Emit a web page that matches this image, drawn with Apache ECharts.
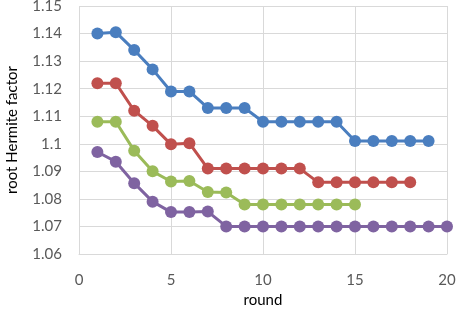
<!DOCTYPE html>
<html><head><meta charset="utf-8">
<script src="https://cdn.jsdelivr.net/npm/echarts@6/dist/echarts.min.js"></script>
<style>html,body{margin:0;padding:0;background:#fff}#c{width:456px;height:316px}</style>
</head><body><div id="c"></div>
<script>
const seriesNames = ['blue', 'red', 'green', 'purple'];
const blueX = [1,2,3,4,5,6,7,8,9,10,11,12,13,14,15,16,17,18,19];
const blueY = [1.140,1.1405,1.134,1.127,1.119,1.119,1.113,1.113,1.113,1.108,1.108,1.108,1.108,1.108,1.101,1.101,1.101,1.101,1.101];
const redX = [1,2,3,4,5,6,7,8,9,10,11,12,13,14,15,16,17,18];
const redY = [1.122,1.122,1.112,1.1065,1.0998,1.1002,1.091,1.091,1.091,1.091,1.091,1.091,1.086,1.086,1.086,1.086,1.086,1.086];
const greenX = [1,2,3,4,5,6,7,8,9,10,11,12,13,14,15];
const greenY = [1.108,1.108,1.0975,1.090,1.0863,1.0865,1.0825,1.0823,1.078,1.078,1.078,1.078,1.078,1.078,1.078];
const purpleX = [1,2,3,4,5,6,7,8,9,10,11,12,13,14,15,16,17,18,19,20];
const purpleY = [1.097,1.0935,1.0857,1.079,1.0752,1.0752,1.0754,1.070,1.070,1.070,1.070,1.070,1.070,1.070,1.070,1.070,1.070,1.070,1.070,1.070];
const colors = ['#4A7EBF','#C0504D','#9BBB59','#7F63A1'];
const xs = [blueX, redX, greenX, purpleX];
const ys = [blueY, redY, greenY, purpleY];

const chart = echarts.init(document.getElementById('c'));
const font = 'Lato, "Open Sans", sans-serif';
chart.setOption({
  animation: false,
  grid: {left: 79, right: 9, top: 6, bottom: 62, containLabel: false, outerBoundsMode: 'none'},
  xAxis: {
    type: 'value', min: 0, max: 20, interval: 5,
    name: 'round', nameLocation: 'middle', nameGap: 37,
    nameTextStyle: {color: '#000', fontSize: 15, fontFamily: font},
    axisLine: {show: true, lineStyle: {color: '#D9D9D9'}},
    axisTick: {show: false},
    axisLabel: {color: '#595959', fontSize: 15, fontFamily: font, margin: 19},
    splitLine: {show: true, lineStyle: {color: '#D9D9D9'}}
  },
  yAxis: {
    type: 'value', min: 1.06, max: 1.15, interval: 0.01,
    name: 'root Hermite factor', nameLocation: 'middle', nameGap: 59,
    nameTextStyle: {color: '#000', fontSize: 15, fontFamily: font},
    axisLine: {show: false},
    axisTick: {show: false},
    axisLabel: {color: '#595959', fontSize: 15, fontFamily: font, margin: 17,
      formatter: v => String(Math.round(v*100)/100)},
    splitLine: {show: true, lineStyle: {color: '#D9D9D9'}}
  },
  series: seriesNames.map((n, i) => ({
    name: n, type: 'line',
    data: xs[i].map((x, j) => [x, ys[i][j]]),
    symbol: 'circle', symbolSize: 12,
    lineStyle: {color: colors[i], width: 3},
    itemStyle: {color: colors[i]}
  }))
});
</script></body></html>
